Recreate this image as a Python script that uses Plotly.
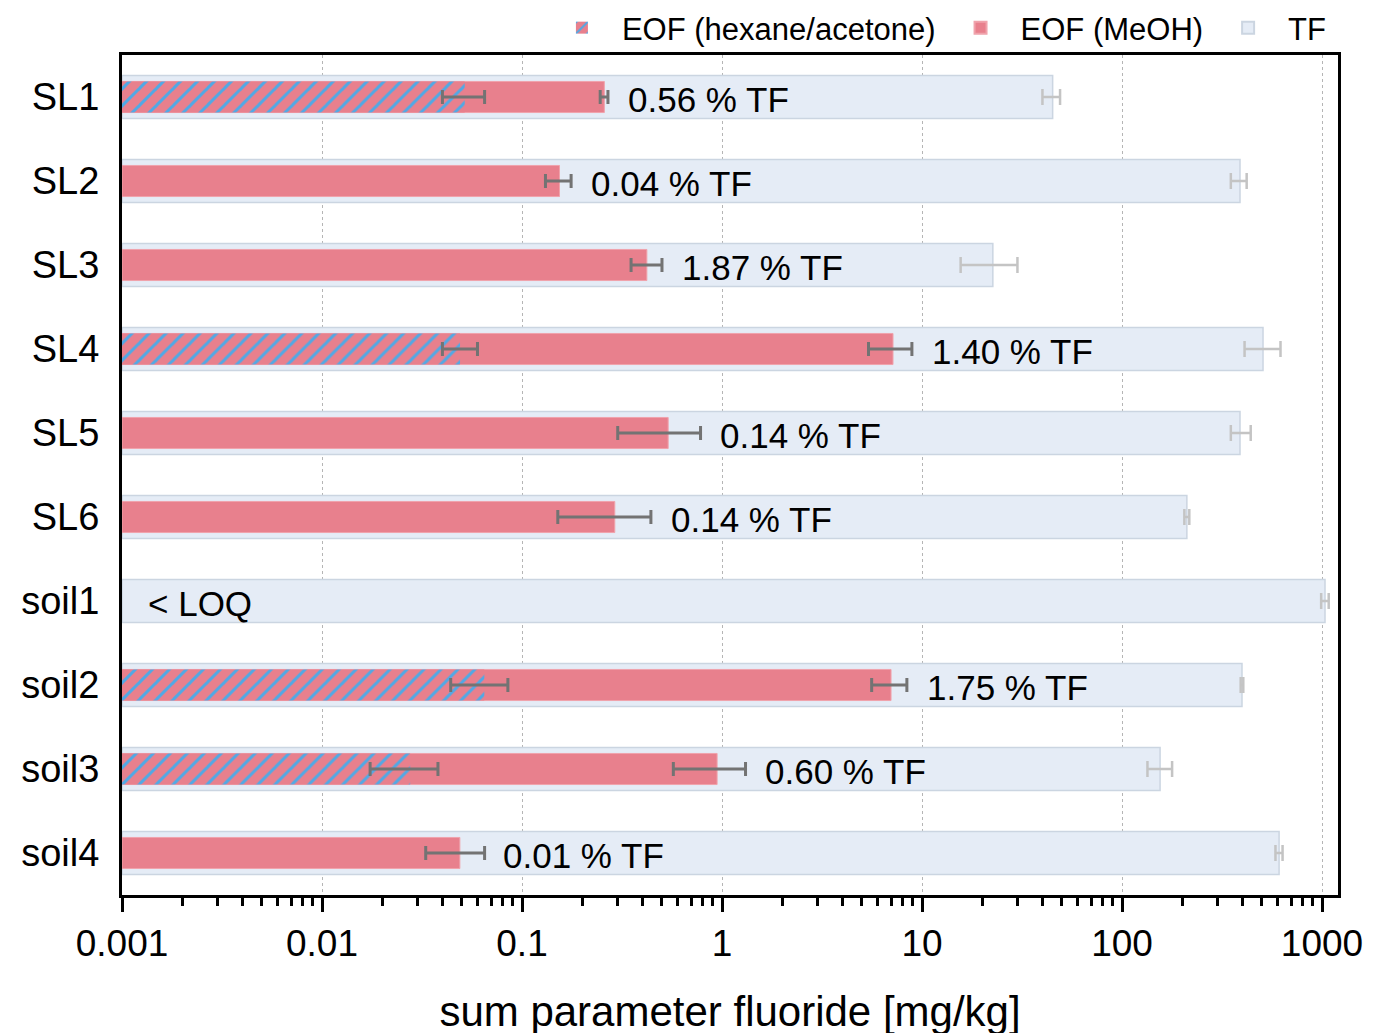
import plotly.graph_objects as go
import numpy as np

categories = ["SL1", "SL2", "SL3", "SL4", "SL5", "SL6", "soil1", "soil2", "soil3", "soil4"]

# Total fluoride (TF)
tf_val = [45, 389, 22.6, 507, 389, 211, 1035, 398, 155, 610]
tf_lo = [40, 350, 15.6, 410, 350, 205, 990, 392, 134, 585]
tf_hi = [49, 420, 30, 620, 440, 217, 1080, 404, 178, 635]

# EOF (MeOH)  (None = below LOQ)
meoh_val = [0.257, 0.153, 0.42, 7.16, 0.537, 0.29, None, 7.0, 0.944, 0.0479]
meoh_lo = [0.245, 0.13, 0.35, 5.4, 0.30, 0.15, None, 5.6, 0.57, 0.032]
meoh_hi = [0.268, 0.175, 0.50, 8.9, 0.78, 0.44, None, 8.4, 1.31, 0.064]

# EOF (hexane/acetone)
hex_val = [0.0507, None, None, 0.048, None, None, None, 0.0638, 0.0266, None]
hex_lo = [0.039, None, None, 0.039, None, None, None, 0.043, 0.0164, None]
hex_hi = [0.064, None, None, 0.0589, None, None, None, 0.084, 0.037, None]

pct_labels = ["0.56 % TF", "0.04 % TF", "1.87 % TF", "1.40 % TF", "0.14 % TF",
              "0.14 % TF", "< LOQ", "1.75 % TF", "0.60 % TF", "0.01 % TF"]

x_min, x_max = 0.001, 1202
tick_vals = [0.001, 0.01, 0.1, 1, 10, 100, 1000]
tick_text = ["0.001", "0.01", "0.1", "1", "10", "100", "1000"]


def err(vals, lo, hi):
    plus = [(h - v) if v is not None else None for v, h in zip(vals, hi)]
    minus = [(v - l) if v is not None else None for v, l in zip(vals, lo)]
    return plus, minus


fig = go.Figure()

p, m = err(tf_val, tf_lo, tf_hi)
fig.add_trace(go.Bar(
    y=categories, x=tf_val, orientation="h", name="TF", width=0.51,
    base=x_min,
    marker=dict(color="#e5ecf6", line=dict(color="#cbd5e1", width=1.5)),
    error_x=dict(type="data", symmetric=False, array=p, arrayminus=m,
                 color="#c4c4c4", thickness=2.5, width=8),
    legendrank=3,
))

p, m = err(meoh_val, meoh_lo, meoh_hi)
fig.add_trace(go.Bar(
    y=categories, x=meoh_val, orientation="h", name="EOF (MeOH)", width=0.37,
    base=x_min,
    marker=dict(color="#e8808d", line=dict(color="#f0a3ac", width=1)),
    error_x=dict(type="data", symmetric=False, array=p, arrayminus=m,
                 color="#737373", thickness=3, width=7),
    legendrank=2,
))

p, m = err(hex_val, hex_lo, hex_hi)
fig.add_trace(go.Bar(
    y=categories, x=hex_val, orientation="h", name="EOF (hexane/acetone)", width=0.37,
    base=x_min,
    marker=dict(color="#e8808d", line=dict(color="#e8808d", width=0),
                pattern=dict(shape="/", fgcolor="#4fa9e6", bgcolor="#e8808d",
                             size=12, solidity=0.25, fillmode="replace")),
    error_x=dict(type="data", symmetric=False, array=p, arrayminus=m,
                 color="#737373", thickness=3, width=7),
    legendrank=1,
))

# percentage labels
for cat, lab, v, h in zip(categories, pct_labels, meoh_val, meoh_hi):
    if v is None:
        xa, shift = np.log10(x_min), 24
    else:
        xa, shift = np.log10(h), 18
    fig.add_annotation(x=xa, y=cat, text=lab, xref="x", yref="y", showarrow=False,
                       xanchor="left", yanchor="middle", xshift=shift, yshift=-2,
                       font=dict(size=35, color="black"))

font_family = "Liberation Sans, Arial, sans-serif"

fig.update_layout(
    width=1393, height=1033,
    margin=dict(l=114, r=63, t=47, b=146, autoexpand=False),
    paper_bgcolor="white", plot_bgcolor="white",
    barmode="overlay",
    font=dict(family=font_family, size=34, color="black"),
    legend=dict(orientation="h", x=0.995, xanchor="right", y=1.0, yanchor="bottom",
                font=dict(size=31), bgcolor="rgba(0,0,0,0)", itemsizing="constant",
                traceorder="normal", itemwidth=70),
    showlegend=True,
)

fig.update_xaxes(
    type="log", range=[np.log10(x_min), np.log10(x_max)],
    tickvals=tick_vals, ticktext=tick_text,
    ticks="outside", ticklen=14, tickwidth=3, tickcolor="black",
    minor=dict(ticks="outside", ticklen=8, tickwidth=2.5, tickcolor="black",
               dtick="D1", showgrid=False),
    showgrid=True, gridcolor="#b5b5b5", griddash="dot", gridwidth=1.2,
    showline=True, mirror=True, linecolor="black", linewidth=3,
    zeroline=False,
    tickfont=dict(size=37),
    title=dict(text="sum parameter fluoride [mg/kg]", font=dict(size=42), standoff=34),
)

fig.update_yaxes(
    type="category", categoryorder="array", categoryarray=categories,
    range=[len(categories) - 0.5, -0.5],
    showgrid=False, ticks="", ticklabelstandoff=12,
    showline=True, mirror=True, linecolor="black", linewidth=3,
    tickfont=dict(size=38),
)

fig.write_html("out.html")
